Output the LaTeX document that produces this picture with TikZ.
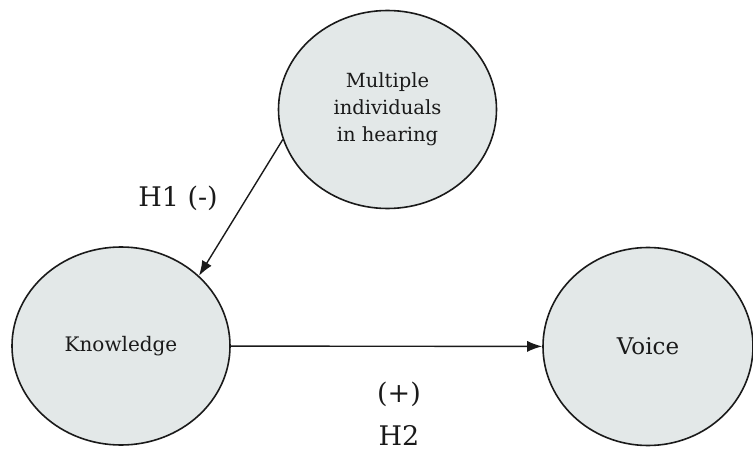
\documentclass[tikz,border=0pt]{standalone}
\usepackage{fontspec}
\setmainfont{DejaVu Serif}
\usetikzlibrary{arrows.meta,shapes.geometric}
\definecolor{bubble}{HTML}{E3E8E8}
\definecolor{ink}{HTML}{1A1A1A}
\begin{document}
\begin{tikzpicture}[x=1pt,y=-1pt,
  construct/.style={ellipse,draw=ink,line width=1.6pt,fill=bubble,minimum width=218pt,minimum height=198pt,inner sep=0pt,align=center,text=ink},
  link/.style={draw=ink,line width=1.4pt,-{Latex[length=15pt,width=11pt]}},
  hyp/.style={text=ink,font=\fontsize{27}{30}\selectfont}]
\useasboundingbox (0,0) rectangle (753,452);
\node[construct,font=\fontsize{19.5}{27}\selectfont] (multi) at (387.5,109.5) {Multiple\\individuals\\in hearing};
\node[construct,font=\fontsize{20}{24}\selectfont] (know) at (121,346) {Knowledge};
\node[construct,minimum width=210pt,font=\fontsize{23}{26}\selectfont] (voice) at (648,346.5) {Voice};
\draw[link] (multi.{-164}) -- (know.{42});
\draw[link] (know) -- (voice);
\node[hyp] (h1) at (178,198) {H1 (-)};
\node[hyp] (plus) at (399,394) {(+)};
\node[hyp] (h2) at (399,435) {H2};
\end{tikzpicture}
\end{document}
